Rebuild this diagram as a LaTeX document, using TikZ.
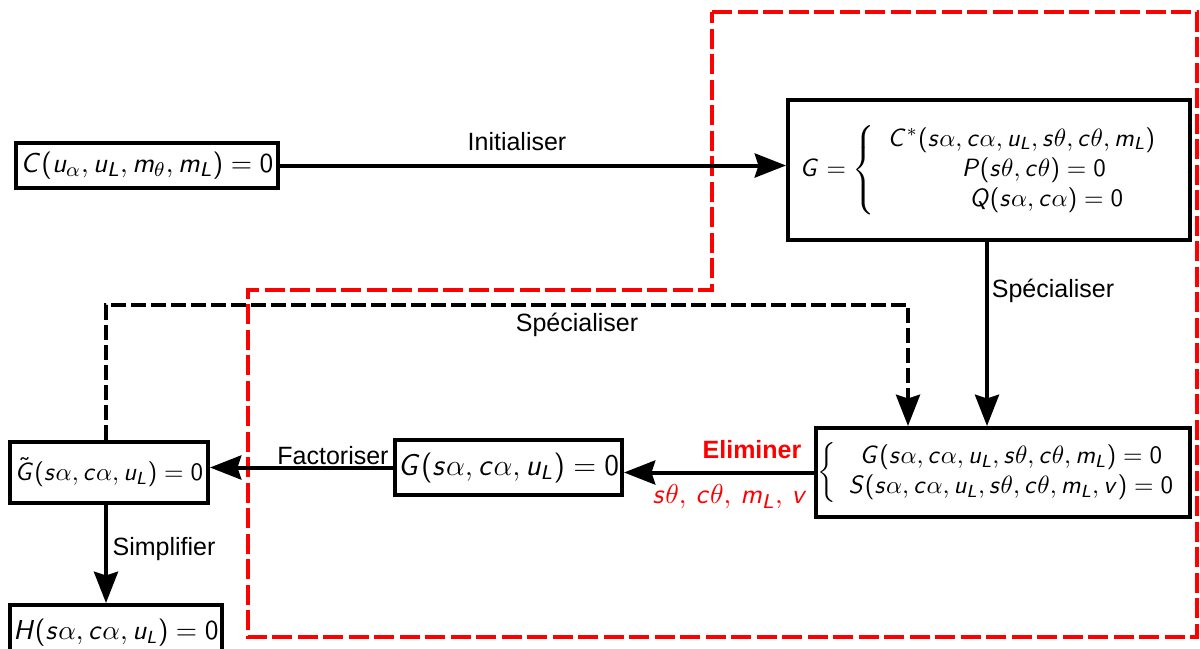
\documentclass[tikz,border=0pt]{standalone}
\usepackage[no-math]{fontspec}
\newfontfamily\lab{Liberation Sans}
\usetikzlibrary{arrows.meta}
\DeclareSymbolFont{sfletters}{OT1}{cmss}{m}{sl}
\SetSymbolFont{operators}{normal}{OT1}{cmss}{m}{n}
\DeclareMathSymbol{C}{\mathalpha}{sfletters}{`C}
\DeclareMathSymbol{G}{\mathalpha}{sfletters}{`G}
\DeclareMathSymbol{H}{\mathalpha}{sfletters}{`H}
\DeclareMathSymbol{L}{\mathalpha}{sfletters}{`L}
\DeclareMathSymbol{P}{\mathalpha}{sfletters}{`P}
\DeclareMathSymbol{Q}{\mathalpha}{sfletters}{`Q}
\DeclareMathSymbol{S}{\mathalpha}{sfletters}{`S}
\DeclareMathSymbol{c}{\mathalpha}{sfletters}{`c}
\DeclareMathSymbol{m}{\mathalpha}{sfletters}{`m}
\DeclareMathSymbol{s}{\mathalpha}{sfletters}{`s}
\DeclareMathSymbol{u}{\mathalpha}{sfletters}{`u}
\DeclareMathSymbol{v}{\mathalpha}{sfletters}{`v}
\definecolor{myred}{RGB}{255,0,0}
\tikzset{
  box/.style={draw=black, line width=1.6pt, fill=white, inner sep=0pt, align=center},
  arr/.style={line width=1.6pt, -{Stealth[length=12.5pt,width=9.6pt,inset=1.5pt]}},
  dasharr/.style={arr, dash pattern=on 6pt off 2pt},
  reddash/.style={draw=myred, line width=1.8pt, dash pattern=on 8pt off 2.2pt},
  lbl/.style={font=\lab\fontsize{10}{12}\selectfont, inner sep=1pt},
}
\begin{document}
\begin{tikzpicture}[x=0.4pt,y=-0.4pt]
\useasboundingbox (0,0) rectangle (1200,648);
% red dashed region
\draw[reddash] (712,12) -- (1197,12) -- (1197,637) -- (248,637) -- (248,290) -- (712,290) -- cycle;
% boxes
\node[box, minimum width=104.8pt, minimum height=18pt, font=\fontsize{11}{13}\selectfont] (C) at (147,165.5)
  {$C(u_\alpha,u_L,m_\theta,m_L)=0$};
\node[box, minimum width=160.8pt, minimum height=56pt] (G) at (989,170)
  {$G=\left\{\begin{array}{c}C^*(s\alpha,c\alpha,u_L,s\theta,c\theta,m_L)\\ \quad P(s\theta,c\theta)=0\\ \quad\quad Q(s\alpha,c\alpha)=0\end{array}\right.$\hspace{3pt}};
\node[box, minimum width=149.6pt, minimum height=35.6pt] (S) at (1003,472.5)
  {$\left\{\begin{array}{c}G(s\alpha,c\alpha,u_L,s\theta,c\theta,m_L)=0\\ S(s\alpha,c\alpha,u_L,s\theta,c\theta,m_L,v)=0\end{array}\right.$};
\node[box, minimum width=90.8pt, minimum height=22pt, font=\large] (G2) at (508.5,467.5)
  {$G(s\alpha,c\alpha,u_L)=0$};
\node[box, minimum width=79.2pt, minimum height=24.4pt] (Gt) at (109,472.5)
  {$\tilde{G}(s\alpha,c\alpha,u_L)=0$};
\node[box, minimum width=84.8pt, minimum height=22pt, anchor=north, font=\fontsize{10.5}{12.5}\selectfont] (H) at (116,603)
  {$H(s\alpha,c\alpha,u_L)=0$};
% connectors
\draw[arr] (C.east) -- (C.east -| G.west);
\node[lbl] (l1) at (517,142) {Initialiser};
\draw[arr] (G.south -| 987,0) -- (987,0 |- S.north);
\node[lbl] (l2) at (1053,291) {Spécialiser};
\draw[arr] (S.west) -- (S.west -| G2.east);
\node[lbl, text=myred, font=\lab\bfseries\fontsize{10}{12}\selectfont] (l3) at (752,450) {Eliminer};
\node[inner sep=1pt, text=myred, font=\fontsize{11}{13}\selectfont] (l4) at (730,497) {$s\theta,\,c\theta,\,m_L,\,v$};
\draw[arr] (G2.west) -- (G2.west -| Gt.east);
\node[lbl] (l5) at (333,456) {Factoriser};
\draw[arr] (Gt.south -| 106,0) -- (106,0 |- H.north);
\node[lbl] (l6) at (164,549) {Simplifier};
\coordinate (d1) at (106,305);
\coordinate (d2) at (908,305);
\draw[dasharr] (Gt.north -| d1) -- (d1) -- (d2) -- (d2 |- S.north);
\node[lbl] (l7) at (577,325) {Spécialiser};
\end{tikzpicture}
\end{document}
